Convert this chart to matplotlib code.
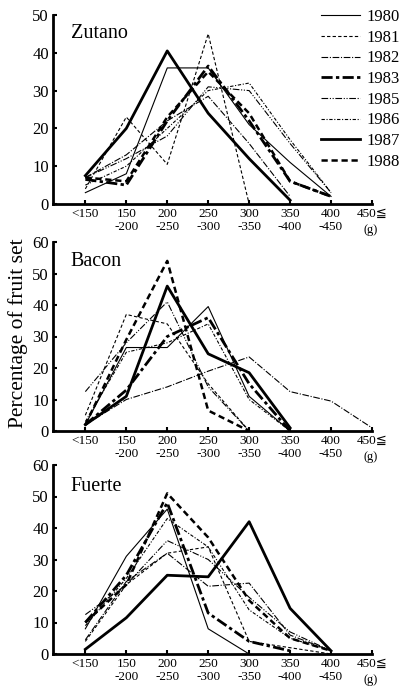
import numpy as np
import matplotlib
matplotlib.use("Agg")
import matplotlib.pyplot as plt
from matplotlib.lines import Line2D

plt.rcParams['font.family'] = ['Liberation Serif', 'DejaVu Serif', 'DejaVu Sans']

categories = ["<150", "150\n-200", "200\n-250", "250\n-300", "300\n-350",
              "350\n-400", "400\n-450", "450≦"]
years = ["1980", "1981", "1982", "1983", "1985", "1986", "1987", "1988"]

zutano = {
    "1980": [3, 8, 36, 36, 21, 11, 2],
    "1981": [4, 23, 10.5, 45, 0],
    "1982": [7, 13, 22, 28.5, 16, 2],
    "1983": [6.5, 5, 22, 36.5, 22, 6, 2],
    "1985": [7, 12, 18, 31, 30, 16, 3],
    "1986": [5, 10, 20, 30, 32, 17, 3],
    "1987": [7.5, 20, 40.5, 24, 12, 1],
    "1988": [7, 6, 23, 35, 24, 6, 2],
}
bacon = {
    "1980": [2, 26.5, 26.5, 39.5, 11, 0],
    "1981": [5, 37, 34, 15, 0],
    "1982": [2, 10, 14, 19, 23.5, 12.5, 9.5, 1],
    "1983": [2, 13, 30, 36, 15, 0],
    "1985": [12.5, 28, 41, 14, 0],
    "1986": [3, 25, 28, 34, 10, 0],
    "1987": [2, 11, 46, 24.5, 18.5, 1],
    "1988": [2, 29, 54, 6.5, 0],
}
fuerte = {
    "1980": [8, 31, 46, 8, 0],
    "1981": [4, 22, 32, 34, 4, 2, 0],
    "1982": [4.5, 23, 32, 21.5, 22.5, 6, 1],
    "1983": [10, 25, 48, 13, 4, 1],
    "1985": [12.5, 22, 36, 30, 18, 7, 1],
    "1986": [9, 24, 43, 34, 14, 5, 1],
    "1987": [1.5, 11.5, 25, 24.5, 42, 14.5, 1],
    "1988": [10, 22, 51, 37, 17, 5, 1],
}

styles = {
    "1980": dict(ls='-', lw=0.8),
    "1981": dict(ls=(0, (3, 2)), lw=0.8),
    "1982": dict(ls=(0, (6, 1.5, 1, 1.5)), lw=0.8),
    "1983": dict(ls=(0, (4, 1.2, 1.2, 1.2)), lw=2.0),
    "1985": dict(ls=(0, (6, 1.5, 1, 1.5, 1, 1.5)), lw=0.8),
    "1986": dict(ls=(0, (3, 1.5, 1, 1.5)), lw=0.8),
    "1987": dict(ls='-', lw=2.0),
    "1988": dict(ls=(0, (2.5, 1.5)), lw=1.8),
}

fig = plt.figure(figsize=(4.09, 6.96), dpi=100)
left, width = 53 / 409, 319 / 409
panels = [
    ("Zutano", zutano, 50, (696 - 204) / 696, 0.955),
    ("Bacon", bacon, 60, (696 - 431) / 696, 0.945),
    ("Fuerte", fuerte, 60, (696 - 654) / 696, 0.935),
]
height = 189 / 696
for name, data, ymax, bottom, ty in panels:
    ax = fig.add_axes([left, bottom, width, height])
    for y in years:
        vals = data[y]
        ax.plot(np.arange(len(vals)), vals, color='black', **styles[y])
    ax.set_xlim(-0.79, 7.0)
    ax.set_ylim(0, ymax)
    ax.set_yticks(np.arange(0, ymax + 1, 10))
    ax.set_xticks(np.arange(len(categories)))
    ax.set_xticklabels(categories, fontsize=9.5, linespacing=1.05)
    ax.tick_params(axis='y', direction='in', length=3, width=1.5, labelsize=12, pad=3)
    ax.tick_params(axis='x', direction='in', length=3, width=1.5, pad=3)
    for s in ['top', 'right']:
        ax.spines[s].set_visible(False)
    for s in ['left', 'bottom']:
        ax.spines[s].set_linewidth(2.0)
    ax.text(0.055, ty, name, transform=ax.transAxes, fontsize=14.5,
            ha='left', va='top')
    ax.text(0.997, -0.105, "(g)", transform=ax.transAxes, fontsize=9,
            ha='center', va='top', clip_on=False)

fig.text(0.045, (696 - 333) / 696, "Percentage of fruit set", rotation=90,
         fontsize=15.5, ha='center', va='center')

handles = [Line2D([], [], color='black', **styles[y]) for y in years]
fig.legend(handles, years, loc='upper right', bbox_to_anchor=(1.0, 1.0),
           frameon=False, fontsize=12, handlelength=2.3, handletextpad=0.4,
           labelspacing=0.28, borderaxespad=0.15)

fig.savefig("out.png", dpi=100)
